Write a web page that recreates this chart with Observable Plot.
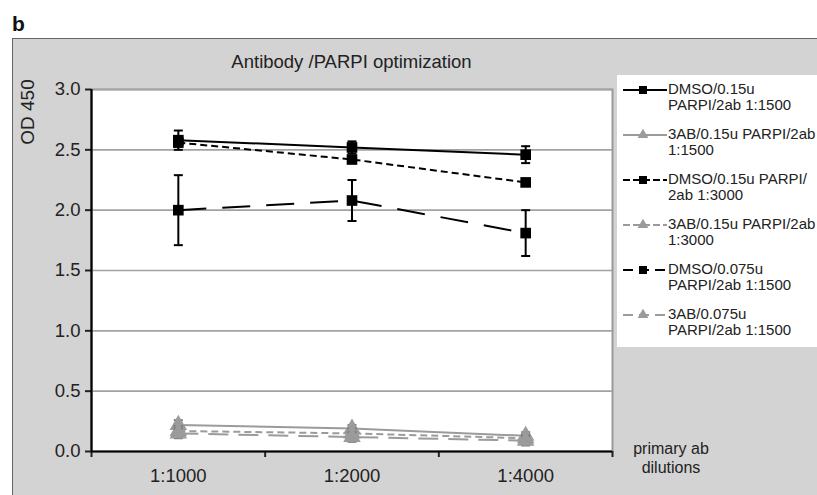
<!DOCTYPE html>
<html>
<head>
<meta charset="utf-8">
<script src="https://cdn.jsdelivr.net/npm/d3@7"></script>
<script src="https://cdn.jsdelivr.net/npm/@observablehq/plot@0.6"></script>
<style>
  html, body { margin: 0; padding: 0; background: #fff; }
  body { width: 817px; height: 495px; position: relative; overflow: hidden; font-family: "Liberation Sans", Arial, sans-serif; color: #222; }
  #panel { position: absolute; left: 12px; top: 38px; width: 810px; height: 470px; background: #d3d3d3; border-left: 1.5px solid #666; border-top: 1.5px solid #666; }
  #chart { position: absolute; left: 0; top: 0; }
  #letter { position: absolute; left: 12px; top: 12px; font-weight: bold; font-size: 21px; color: #111; }
  #title { position: absolute; left: 91px; width: 521px; top: 51px; text-align: center; font-size: 18.5px; }
  #ylab { position: absolute; left: 28px; top: 112px; transform: translate(-50%, -50%) rotate(-90deg); font-size: 19px; white-space: nowrap; }
  #xnote { position: absolute; left: 671px; top: 439px; transform: translateX(-50%); text-align: center; font-size: 16px; line-height: 19px; white-space: nowrap; }
  #legend { position: absolute; left: 617px; top: 75px; width: 205px; height: 272px; background: #fff; }
  .entry { position: absolute; left: 0; }
  .entry svg { position: absolute; left: 4px; top: 0; }
  .entry .txt { position: absolute; left: 51px; top: -1px; font-size: 15px; line-height: 15.5px; white-space: nowrap; }
</style>
</head>
<body>
<div id="panel"></div>
<div id="chart"></div>
<div id="letter">b</div>
<div id="title">Antibody /PARPI optimization</div>
<div id="ylab">OD 450</div>
<div id="xnote">primary ab<br>dilutions</div>
<div id="legend"></div>
<script>
// ---- data ----
const categories = ["1:1000", "1:2000", "1:4000"];
const seriesNames = [
  "DMSO/0.15u PARPI/2ab 1:1500",
  "3AB/0.15u PARPI/2ab 1:1500",
  "DMSO/0.15u PARPI/ 2ab 1:3000",
  "3AB/0.15u PARPI/2ab 1:3000",
  "DMSO/0.075u PARPI/2ab 1:1500",
  "3AB/0.075u PARPI/2ab 1:1500"
];
const legendLines = [
  ["DMSO/0.15u", "PARPI/2ab 1:1500"],
  ["3AB/0.15u PARPI/2ab", "1:1500"],
  ["DMSO/0.15u PARPI/", "2ab 1:3000"],
  ["3AB/0.15u PARPI/2ab", "1:3000"],
  ["DMSO/0.075u", "PARPI/2ab 1:1500"],
  ["3AB/0.075u", "PARPI/2ab 1:1500"]
];
const s1 = [2.58, 2.52, 2.46];
const s2 = [0.22, 0.19, 0.13];
const s3 = [2.56, 2.42, 2.23];
const s4 = [0.17, 0.15, 0.11];
const s5 = [2.00, 2.08, 1.81];
const s6 = [0.15, 0.12, 0.09];
const err1 = [0.08, 0.05, 0.07];
const err2 = [0.04, 0.03, 0.03];
const err3 = [0.03, 0.03, 0.02];
const err4 = [0.04, 0.04, 0.03];
const err5 = [0.29, 0.17, 0.19];
const err6 = [0.04, 0.04, 0.04];
const yTicks = [0, 0.5, 1.0, 1.5, 2.0, 2.5, 3.0];

const values = [s1, s2, s3, s4, s5, s6];
const errors = [err1, err2, err3, err4, err5, err6];
const styles = [
  {color: "#000", dash: null, symbol: "square"},
  {color: "#9b9b9b", dash: null, symbol: "triangle"},
  {color: "#000", dash: "7,4", symbol: "square"},
  {color: "#9b9b9b", dash: "7,4", symbol: "triangle"},
  {color: "#000", dash: "28,16", symbol: "square"},
  {color: "#9b9b9b", dash: "20,10", symbol: "triangle"}
];

const rows = [];
values.forEach((vals, s) => vals.forEach((v, i) => rows.push({
  s, x: i + 0.5, v, lo: v - errors[s][i], hi: v + errors[s][i]
})));

const cap = {draw(ctx, size) { const r = Math.sqrt(size / Math.PI); ctx.moveTo(-r, 0); ctx.lineTo(r, 0); }};

const marks = [
  Plot.frame({fill: "white", stroke: "#9a9a9a", strokeWidth: 2}),
  Plot.gridY(yTicks, {stroke: "#a2a2a2", strokeOpacity: 1, strokeWidth: 1.6}),
  Plot.axisY(yTicks, {tickFormat: d => d.toFixed(1), tickSize: 6, tickPadding: 5, strokeWidth: 2, label: null, fontSize: 18.5}),
  Plot.axisX([0, 1, 2, 3], {tickFormat: () => "", tickSize: 6, strokeWidth: 2, label: null}),
  Plot.axisX(categories.map((c, i) => i + 0.5), {tickFormat: d => categories[Math.round(d - 0.5)], tickSize: 0, tickPadding: 17, label: null, fontSize: 18.5})
];
// draw gray first, then black on top
const order = [1, 3, 5, 0, 2, 4];
for (const s of order) {
  const data = rows.filter(r => r.s === s);
  const st = styles[s];
  marks.push(Plot.line(data, {x: "x", y: "v", stroke: st.color, strokeWidth: 2, strokeDasharray: st.dash, strokeLinecap: "butt"}));
  marks.push(Plot.ruleX(data, {x: "x", y1: "lo", y2: "hi", stroke: s % 2 ? "#777" : "#000", strokeWidth: 2}));
  marks.push(Plot.dot(data, {x: "x", y: "lo", symbol: cap, r: 4.5, stroke: s % 2 ? "#777" : "#000", strokeWidth: 2}));
  marks.push(Plot.dot(data, {x: "x", y: "hi", symbol: cap, r: 4.5, stroke: s % 2 ? "#777" : "#000", strokeWidth: 2}));
  marks.push(Plot.dot(data, {x: "x", y: "v", symbol: st.symbol, r: st.symbol === "square" ? 6 : 6.5, fill: st.color, stroke: "none"}));
}
marks.push(Plot.ruleX([0], {strokeWidth: 2.2, stroke: "#000"}));
marks.push(Plot.ruleY([0], {strokeWidth: 2.2, stroke: "#000"}));

const chart = Plot.plot({
  width: 817, height: 495,
  marginLeft: 91, marginRight: 205, marginTop: 89, marginBottom: 44,
  style: {background: "transparent", fontFamily: "'Liberation Sans', Arial, sans-serif", fontSize: "18.5px", color: "#222"},
  x: {type: "linear", domain: [0, 3]},
  y: {domain: [0, 3]},
  marks
});
document.getElementById("chart").appendChild(chart);

// legend
const legend = document.getElementById("legend");
const ns = "http://www.w3.org/2000/svg";
seriesNames.forEach((name, s) => {
  const st = styles[s];
  const e = document.createElement("div");
  e.className = "entry";
  e.style.top = (7 + s * 45) + "px";
  e.title = name;
  const svg = document.createElementNS(ns, "svg");
  svg.setAttribute("width", 46); svg.setAttribute("height", 14);
  const line = document.createElementNS(ns, "line");
  line.setAttribute("x1", 2); line.setAttribute("x2", 46); line.setAttribute("y1", 8); line.setAttribute("y2", 8);
  line.setAttribute("stroke", st.color); line.setAttribute("stroke-width", 2);
  if (st.dash) line.setAttribute("stroke-dasharray", s === 4 || s === 5 ? "10,6" : "7,3");
  svg.appendChild(line);
  const sym = d3.symbol(st.symbol === "square" ? d3.symbolSquare : d3.symbolTriangle, st.symbol === "square" ? 64 : 50)();
  const p = document.createElementNS(ns, "path");
  p.setAttribute("d", sym); p.setAttribute("transform", "translate(22,8)"); p.setAttribute("fill", st.color);
  svg.appendChild(p);
  e.appendChild(svg);
  const t = document.createElement("div");
  t.className = "txt";
  t.innerHTML = legendLines[s][0] + "<br>" + legendLines[s][1];
  e.appendChild(t);
  legend.appendChild(e);
});
</script>
</body>
</html>
